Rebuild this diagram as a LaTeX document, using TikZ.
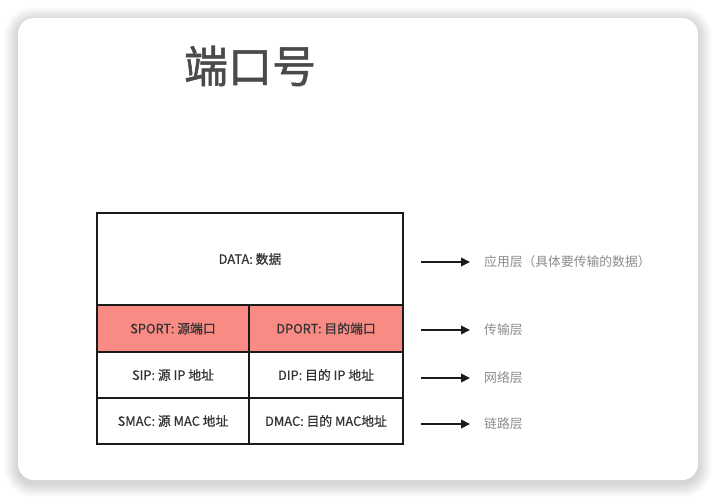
\documentclass[tikz,border=0pt]{standalone}
\usepackage{fontspec}
\setmainfont{Noto Sans CJK SC}
\newfontfamily\cjk{Noto Sans CJK SC}
\newfontfamily\cjkmed[FakeBold=0.6]{Noto Sans CJK SC}
\newfontfamily\cjktitle[FakeBold=1.2]{Noto Sans CJK SC}
\usetikzlibrary{arrows.meta}
\definecolor{cellred}{HTML}{F98A84}
\definecolor{linedark}{HTML}{1A1A1A}
\definecolor{titlegray}{HTML}{4A4A4A}
\definecolor{labgray}{HTML}{8C8C8C}
\definecolor{celltext}{HTML}{333333}
\tikzset{
  cellbox/.style={draw=linedark, line width=2.8pt, minimum width=#1, inner sep=0pt, outer sep=0pt, font=\cjkmed\fontsize{12.8}{15}\selectfont, text=celltext},
  layerlab/.style={anchor=west, inner sep=0pt, font=\cjk\fontsize{12.8}{15}\selectfont, text=labgray},
  layerarrow/.style={line width=2pt, draw=linedark, -{Triangle[length=9pt,width=8.5pt]}, shorten >=14pt}
}
\begin{document}
\begin{tikzpicture}[x=1pt,y=-1pt]
\useasboundingbox (0,0) rectangle (716,498);
\fill[white] (0,0) rectangle (716,498);
% shadow
\foreach \i in {14,13,...,1}{
  \fill[black, opacity=0.011, rounded corners=16+\i] (18-\i,18-\i+3) rectangle (698+\i,480+\i+3);
}
\fill[white, rounded corners=16pt] (18,18) rectangle (698,480);
% title
\node[font=\cjktitle\fontsize{44}{50}\selectfont, text=titlegray] (title) at (250,66) {端口号};
% table cells
\node[cellbox=306pt, minimum height=92pt] (data) at (250,259) {DATA: 数据};
\node[cellbox=152pt, minimum height=47pt, fill=cellred] (sport) at (173,328.5) {SPORT: 源端口};
\node[cellbox=154pt, minimum height=47pt, fill=cellred] (dport) at (326,328.5) {DPORT: 目的端口};
\node[cellbox=152pt, minimum height=46pt] (sip) at (173,375) {SIP: 源 IP 地址};
\node[cellbox=154pt, minimum height=46pt] (dip) at (326,375) {DIP: 目的 IP 地址};
\node[cellbox=152pt, minimum height=46pt] (smac) at (173,421) {SMAC: 源 MAC 地址};
\node[cellbox=154pt, minimum height=46pt] (dmac) at (326,421) {DMAC: 目的 MAC地址};
% layer labels
\node[layerlab] (l1) at (484,262) {应用层（具体要传输的数据）};
\node[layerlab] (l2) at (484,330) {传输层};
\node[layerlab] (l3) at (484,378) {网络层};
\node[layerlab] (l4) at (484,424) {链路层};
\coordinate (a1) at (421,262);
\coordinate (a2) at (421,330);
\coordinate (a3) at (421,378);
\coordinate (a4) at (421,424);
\draw[layerarrow] (a1) -- (l1.west);
\draw[layerarrow] (a2) -- (l2.west);
\draw[layerarrow] (a3) -- (l3.west);
\draw[layerarrow] (a4) -- (l4.west);
\end{tikzpicture}
\end{document}
